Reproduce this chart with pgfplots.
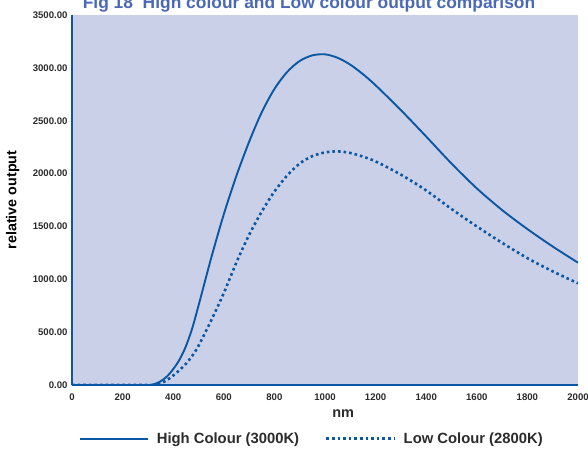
\documentclass[border=0pt]{standalone}
\usepackage{pgfplots}
\pgfplotsset{compat=1.18}
\usepackage{fontspec}
\setmainfont{Liberation Sans}
\definecolor{lineblue}{HTML}{0A57A4}
\definecolor{bgblue}{HTML}{CBD0E9}
\definecolor{titleblue}{HTML}{4A68B8}
\definecolor{ticktext}{HTML}{2B2B2B}
\begin{document}
\begin{tikzpicture}
\begin{axis}[
  scale only axis,
  width=506pt, height=370pt,
  xmin=0, xmax=2000, ymin=0, ymax=3500,
  axis x line=bottom, axis y line=left,
  axis line style={lineblue, line width=1.4pt, -},
  axis background/.style={fill=bgblue},
  xtick={0,200,...,2000},
  ytick={0,500,...,3500},
  major tick length=0pt,
  /pgf/number format/assume math mode=true,
  ticklabel style={font=\bfseries\fontsize{9.6}{10}\selectfont, text=ticktext},
  yticklabel style={/pgf/number format/fixed, /pgf/number format/precision=2, /pgf/number format/fixed zerofill, /pgf/number format/1000 sep={}, xshift=-1pt},
  xticklabel style={/pgf/number format/1000 sep={}, yshift=-5pt},
  scaled y ticks=false,
  xlabel={nm},
  xlabel style={font=\bfseries\fontsize{14.5}{14.5}\selectfont, text=ticktext, at={(axis description cs:0.536,-0.076)}, anchor=center},
  ylabel={relative output},
  ylabel style={font=\bfseries\fontsize{14.3}{14.3}\selectfont, text=black, at={(axis description cs:-0.117,0.5)}, anchor=center},
  legend columns=2,
  legend style={draw=none, fill=none, at={(axis description cs:0.474,-0.145)}, anchor=center, font=\bfseries\fontsize{14.8}{14.8}\selectfont, text=ticktext, /tikz/every odd column/.append style={column sep=6pt}, /tikz/every even column/.append style={column sep=24pt}},
  legend image code/.code={\draw[#1] (0pt,0pt) -- (68pt,0pt);},
]
\addplot[lineblue, line width=1.9pt, smooth, tension=0.5] coordinates {
(0,0) (300,0) (325,8) (350,35) (375,80) (400,150) (425,240) (450,365) (475,535) (500,750) (550,1200) (600,1615) (650,1980) (700,2300) (750,2580) (800,2800) (850,2960) (900,3065) (950,3118) (1000,3128) (1050,3095) (1100,3030) (1150,2940) (1200,2835) (1300,2600) (1400,2350) (1500,2095) (1600,1860) (1700,1655) (1800,1475) (1900,1310) (2000,1157)
};
\addlegendentry{High Colour (3000K)}
\addplot[lineblue, line width=2.6pt, dash pattern=on 2.6pt off 3.0pt, smooth, tension=0.5] coordinates {
(0,0) (310,0) (325,4) (350,18) (375,45) (400,90) (425,140) (450,200) (475,275) (500,370) (550,610) (600,870) (650,1160) (700,1420) (750,1640) (800,1830) (850,1980) (900,2095) (950,2165) (1000,2200) (1050,2210) (1100,2195) (1150,2160) (1200,2115) (1300,1990) (1400,1840) (1500,1665) (1600,1500) (1700,1345) (1800,1200) (1900,1075) (2000,962)
};
\addlegendentry{Low Colour (2800K)}
\end{axis}
\node[anchor=base, font=\bfseries\fontsize{17.4}{17.4}\selectfont, text=titleblue] at (237pt,376pt) {Fig 18\ \ High colour and Low colour output comparison};
\pgfresetboundingbox
\path[use as bounding box] (-72pt,-64pt) rectangle (516pt,385pt);
\end{tikzpicture}
\end{document}
